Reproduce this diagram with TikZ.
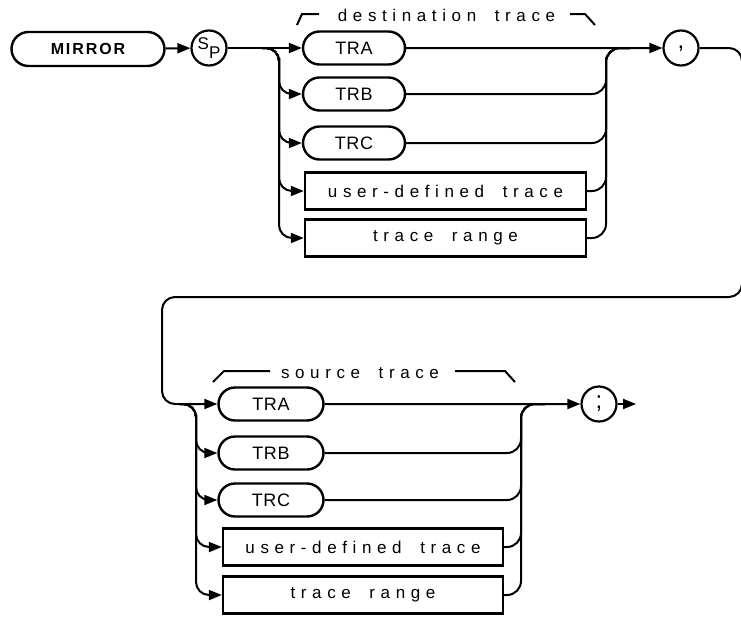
\documentclass[tikz,border=0pt]{standalone}
\usepackage{fontspec}
\usetikzlibrary{arrows.meta,shapes.misc,positioning}
\newfontfamily\plotfont[LetterSpace=33,WordSpace=1.8]{Liberation Sans}
\newfontfamily\capfont[LetterSpace=4]{Liberation Sans}
\newfontfamily\cmdfont[LetterSpace=12]{Liberation Sans}

\begin{document}
\begin{tikzpicture}[x=1pt,y=-1pt,line width=2pt,
  flow/.style={-{Triangle[length=13pt,width=10pt]}},
  cmdbox/.style={rounded rectangle,draw,line width=2.4pt,minimum width=153pt,minimum height=34pt,inner sep=0pt,font=\cmdfont\bfseries\fontsize{16pt}{16pt}\selectfont},
  keyword/.style={rounded rectangle,draw,line width=2.4pt,minimum width=102pt,minimum height=33pt,inner sep=0pt,font=\capfont\fontsize{18pt}{18pt}\selectfont},
  param/.style={rectangle,draw,line width=2.4pt,minimum width=281pt,minimum height=37pt,inner sep=0pt,font=\plotfont\fontsize{17pt}{17pt}\selectfont},
  sym/.style={circle,draw,line width=2.2pt,minimum size=35pt,inner sep=0pt,font=\capfont\fontsize{24pt}{24pt}\selectfont},
  lbl/.style={inner sep=0pt,font=\plotfont\fontsize{17pt}{17pt}\selectfont}]
  \useasboundingbox (0,0) rectangle (741,616);

  \node[cmdbox] (mirror) at (88,49) {MIRROR};
  \node[sym] (sp) at (209,48) {\fontsize{17pt}{17pt}\selectfont\raisebox{4pt}{S}\raisebox{-5pt}{P}};
  \node[keyword] (dtra) at (354,48) {TRA};
  \node[keyword] (dtrb) at (354,94) {TRB};
  \node[keyword] (dtrc) at (354,143) {TRC};
  \node[param] (dudt) at (445.5,191) {user-defined trace};
  \node[param] (drng) at (445.5,238) {trace range};
  \node[sym] (comma) at (681,48) {\raisebox{-5pt}{,}};
  \node[lbl] (dlabel) at (446.5,15) {destination trace};
  \coordinate (dfork) at (262,48);
  \coordinate (dbus) at (279,71);
  \coordinate (djoin) at (630,48);

  \node[keyword,minimum width=105pt] (stra) at (271,404) {TRA};
  \node[keyword,minimum width=105pt] (strb) at (271,453) {TRB};
  \node[keyword,minimum width=105pt] (strc) at (271,500) {TRC};
  \node[param,minimum width=280pt] (sudt) at (363,547) {user-defined trace};
  \node[param,minimum width=280pt] (srng) at (363,595) {trace range};
  \node[sym] (semi) at (599,404) {;};
  \node[lbl] (slabel) at (360,373) {source trace};
  \coordinate (sfork) at (180,404);
  \coordinate (sbus) at (196,428);
  \coordinate (sjoin) at (545,404);
  \coordinate (out) at (636,404);

  \draw (297,25) -- (302,14) -- (319,14);
  \draw (570,14) -- (585,14) -- (595,25);
  \draw (213,382) -- (224,371) -- (270,371);
  \draw (455,371) -- (505,371) -- (515,382);

  \draw[flow] (mirror) -- (sp);
  \draw[flow] (sp) -- (dtra);
  \draw[flow] (dtra) -- (comma);
  \foreach \n in {dtrb,dtrc,dudt,drng}{
    \draw[flow,rounded corners=13pt] (dfork) -| (dbus) |- (\n.west);
    \draw[rounded corners=14pt] (\n.east) -| (606,71) |- (djoin);
  }

  \draw[flow,rounded corners=13pt] (comma.east) -| (742,170) |- (450,297) -| (162,350) |- (stra.west);

  \draw[flow] (stra) -- (semi);
  \draw[flow] (semi) -- (out);
  \foreach \n in {strb,strc,sudt,srng}{
    \draw[flow,rounded corners=13pt] (sfork) -| (sbus) |- (\n.west);
    \draw[rounded corners=14pt] (\n.east) -| (521,428) |- (sjoin);
  }
\end{tikzpicture}
\end{document}
